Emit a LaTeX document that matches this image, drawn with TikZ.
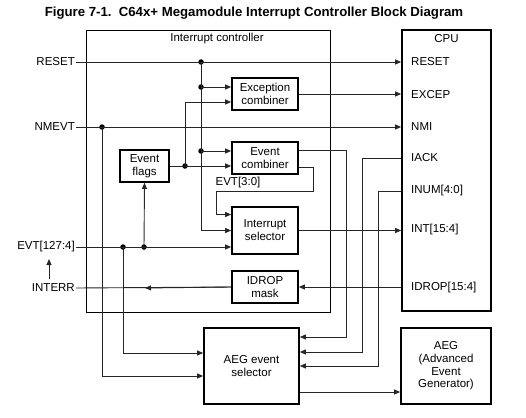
\documentclass[tikz,border=0pt]{standalone}
\usepackage{fontspec}
\setmainfont{Liberation Sans}
\usetikzlibrary{arrows.meta,calc}

\begin{document}
\begin{tikzpicture}[
    x=1pt, y=-1pt,
    font=\fontsize{11.5}{13}\selectfont,
    >={Triangle[length=6pt,width=5pt]},
    blk/.style={draw=black, line width=1.7pt, inner sep=0pt, align=center},
    ctrlbox/.style={draw=black, line width=0.9pt, inner sep=0pt},
    conn/.style={black!85, line width=0.9pt},
    arr/.style={conn, ->},
    dot/.style={circle, fill=black, inner sep=0pt, minimum size=5.5pt},
    pin/.style={anchor=west, inner sep=1pt},
    sig/.style={anchor=east, inner sep=1pt},
]
\useasboundingbox (0,0) rectangle (526,417);

% === TITLE ===
\node[font=\fontsize{13.2}{15}\selectfont\bfseries] (title) at (254,13) {Figure 7-1.\ \ C64x+ Megamodule Interrupt Controller Block Diagram};

% === INTERRUPT CONTROLLER ===
\node[ctrlbox, minimum width=244pt, minimum height=282pt] (ic) at (208,171) {};
\node (iclbl) at (217,39) {Interrupt controller};

\node[blk, minimum width=66pt, minimum height=32pt] (exc) at (265,94) {Exception\\combiner};
\node[blk, minimum width=66pt, minimum height=32pt] (evc) at (265,158) {Event\\combiner};
\node[blk, minimum width=66pt, minimum height=47pt] (isel) at (265,230.5) {Interrupt\\selector};
\node[blk, minimum width=66pt, minimum height=32pt] (idrop) at (265,287) {IDROP\\mask};
\node[blk, minimum width=49pt, minimum height=32pt] (flags) at (144.5,166) {Event\\flags};
\node (evtlbl) at (238,183) {EVT[3:0]};

% === CPU ===
\node[blk, minimum width=89pt, minimum height=281pt] (cpu) at (446.5,170.5) {};
\node (cpulbl) at (446.5,39) {CPU};
\node[pin] (cRESET) at (410,62) {RESET};
\node[pin] (cEXCEP) at (410,95) {EXCEP};
\node[pin] (cNMI) at (410,127) {NMI};
\node[pin] (cIACK) at (410,158) {IACK};
\node[pin] (cINUM) at (410,191) {INUM[4:0]};
\node[pin] (cINT) at (410,230) {INT[15:4]};
\node[pin] (cIDROP) at (410,288) {IDROP[15:4]};

% === AEG ===
\node[blk, minimum width=95pt, minimum height=76pt] (aegsel) at (251.5,366) {AEG event\\selector};
\node[blk, minimum width=90pt, minimum height=76pt, font=\fontsize{11.5}{12.7}\selectfont] (aeg) at (446,366) {AEG\\(Advanced\\Event\\Generator)};

% === INPUT SIGNALS ===
\node[sig] (reset) at (76,62) {RESET};
\node[sig] (nmevt) at (76,127) {NMEVT};
\node[sig] (evt) at (76,247) {EVT[127:4]};
\node[sig] (interr) at (76,288) {INTERR};

% Junctions
\node[dot] (jR1) at (201,62) {};
\node[dot] (jR2) at (201,87) {};
\node[dot] (jR3) at (201,151) {};
\node[dot] (jF1) at (185,166) {};
\node[dot] (jN) at (102,127) {};
\node[dot] (jE1) at (123,247) {};
\node[dot] (jE2) at (144,247) {};

% Bends
\coordinate (lp) at (313,191);
\coordinate (b1) at (346,337);
\coordinate (b2) at (362,352);
\coordinate (b3) at (378,366);
\coordinate (mid) at (145,288);
\coordinate (ua) at (49,279);
\coordinate (ub) at (49,259);

% RESET
\draw[arr] (reset.east) -- (reset.east -| cpu.west);
\draw[arr] (jR1.center) |- (isel.west);
\draw[arr] (jR2.center) -- (jR2 -| exc.west);
\draw[arr] (jR3.center) -- (jR3 -| evc.west);

% Event flags
\draw[arr] (flags.east) -- (flags.east -| evc.west);
\draw[arr] (jF1.center) |- ([yshift=-8pt]exc.west);

% NMEVT
\draw[arr] (nmevt.east) -- (nmevt.east -| cpu.west);
\draw[arr] (jN.center) |- ([yshift=-10pt]aegsel.west);

% EVT[127:4]
\draw[arr] (evt.east) -- (evt.east -| isel.west);
\draw[arr] (jE1.center) |- ([yshift=13pt]aegsel.west);
\draw[arr] (jE2.center) -- (flags.south);

% INTERR
\draw[conn] (idrop.west) -- (interr.east);
\draw[arr] (idrop.west) -- (mid);
\draw[arr] (ua) -- (ub);

% Outputs to CPU
\draw[arr] (exc.east) -- (exc.east -| cpu.west);
\draw[arr] (isel.east) -- (isel.east -| cpu.west);
\draw[arr] (idrop.east -| cpu.west) -- (idrop.east);

% EVT[3:0] loop
\draw[arr] ([yshift=-9pt]evc.east) -| (lp) -| ([xshift=-15pt,yshift=16pt]isel.west) -- ([yshift=16pt]isel.west);

% To AEG event selector
\draw[arr] ([yshift=8pt]evc.east) -| (b1) -- (b1 -| aegsel.east);
\draw[arr] (cIACK.west -| cpu.west) -| (b2) -- (b2 -| aegsel.east);
\draw[arr] (cINUM.west -| cpu.west) -| (b3) -- (b3 -| aegsel.east);
\draw[arr] ([yshift=-26pt]aegsel.east) -- ([yshift=-26pt]aegsel.east -| aeg.west);

\end{tikzpicture}
\end{document}
